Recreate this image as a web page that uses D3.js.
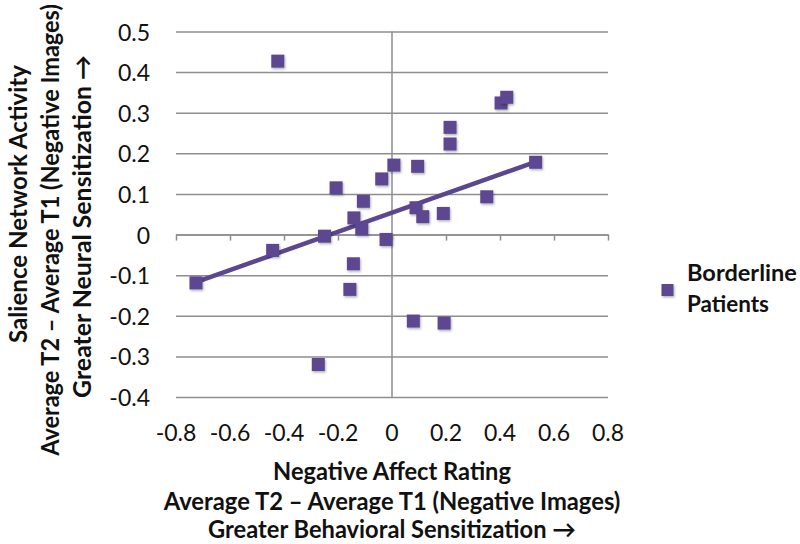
<!DOCTYPE html>
<html><head><meta charset="utf-8">
<script src="https://cdn.jsdelivr.net/npm/d3@7"></script>
<style>
html,body{margin:0;padding:0;background:#fff;}
svg{display:block;}
text{font-family:Lato,"Open Sans",sans-serif;fill:#111;}
</style></head>
<body>
<svg id="chart" width="800" height="544"></svg>
<script>
// ---- data ----
const affectRating = [-0.423,-0.207,-0.106,-0.038,0.007,-0.141,0.095,0.215,0.215,0.404,0.425,0.532,0.351,0.089,0.114,0.190,-0.726,-0.442,-0.250,-0.112,-0.022,-0.143,-0.156,-0.273,0.079,0.193];
const salience     = [0.427,0.115,0.082,0.137,0.171,0.041,0.168,0.264,0.223,0.324,0.338,0.178,0.093,0.066,0.044,0.052,-0.119,-0.039,-0.004,0.014,-0.012,-0.072,-0.135,-0.320,-0.213,-0.218];
const trendX = [-0.726, 0.532];
const trendY = [-0.117, 0.179];
const xTicks = [-0.8,-0.6,-0.4,-0.2,0,0.2,0.4,0.6,0.8];
const yTicks = [-0.4,-0.3,-0.2,-0.1,0,0.1,0.2,0.3,0.4,0.5];
const seriesName = ["Borderline","Patients"];
const xTitle = ["Negative Affect Rating","Average T2 \u2013 Average T1 (Negative Images)","Greater Behavioral Sensitization \u2192"];
const yTitle = ["Salience Network Activity","Average T2 \u2013 Average T1 (Negative Images)","Greater Neural Sensitization \u2192"];

// ---- drawing ----
const svg = d3.select("#chart");
const purple = "#5b4690";
const grid = "#8e8e8e";
const x = d3.scaleLinear().domain([-0.8,0.8]).range([176,608]);
const y = d3.scaleLinear().domain([-0.4,0.5]).range([397,31.5]);

const defs = svg.append("defs");
const f = defs.append("filter").attr("id","sh").attr("x","-50%").attr("y","-50%").attr("width","200%").attr("height","200%");
f.append("feDropShadow").attr("dx",1).attr("dy",1.5).attr("stdDeviation",1.2).attr("flood-color","#000").attr("flood-opacity",0.3);

// horizontal gridlines
const gy = svg.append("g").attr("transform",`translate(${x(-0.8)},0)`)
  .call(d3.axisLeft(y).tickValues(yTicks).tickSize(-(x(0.8)-x(-0.8))).tickFormat(""));
gy.select(".domain").remove();
gy.selectAll(".tick line").attr("stroke",grid).attr("stroke-width",1.5);

// vertical axis at x=0
svg.append("line").attr("x1",x(0)).attr("x2",x(0)).attr("y1",y(0.5)).attr("y2",y(-0.4))
  .attr("stroke",grid).attr("stroke-width",1.5);

// horizontal axis at y=0 with ticks
const gx = svg.append("g").attr("transform",`translate(0,${y(0)})`)
  .call(d3.axisBottom(x).tickValues(xTicks).tickSize(6).tickSizeOuter(0).tickFormat(""));
gx.select(".domain").attr("stroke",grid).attr("stroke-width",1.5);
gx.selectAll(".tick line").attr("stroke",grid).attr("stroke-width",1.5);

// tick labels
const fmt = v => v===0 ? "0" : d3.format(".1f")(v).replace("\u2212","-");
svg.append("g").selectAll("text").data(yTicks).join("text")
  .attr("x",150).attr("y",d=>y(d)+1).attr("dy","0.35em").attr("text-anchor","end")
  .attr("font-size",23).text(fmt);
svg.append("g").selectAll("text").data(xTicks).join("text")
  .attr("x",d=>x(d)).attr("y",441).attr("text-anchor","middle")
  .attr("font-size",23).text(fmt);

// trend line
svg.append("line").attr("x1",x(trendX[0])).attr("y1",y(trendY[0]))
  .attr("x2",x(trendX[1])).attr("y2",y(trendY[1]))
  .attr("stroke",purple).attr("stroke-width",4.5).attr("stroke-linecap","round");

// points
const S = 13;
svg.append("g").selectAll("rect").data(affectRating.map((v,i)=>[v,salience[i]])).join("rect")
  .attr("x",d=>x(d[0])-S/2).attr("y",d=>y(d[1])-S/2).attr("width",S).attr("height",S)
  .attr("fill",purple).attr("filter","url(#sh)");

// helper: fit a bold text to a target width while keeping a fixed glyph height
function fitText(g, px, py, rot, str, target, base, anchor){
  const t = g.append("text").attr("font-weight","bold").attr("font-size",base)
    .attr("text-anchor",anchor).text(str);
  const nat = t.node().getComputedTextLength();
  const fs = base*target/nat;
  t.attr("font-size",fs)
   .attr("transform",`translate(${px},${py}) rotate(${rot}) scale(1,${base/fs})`);
  return t;
}

// legend
svg.append("rect").attr("x",661.5).attr("y",284).attr("width",12).attr("height",12)
  .attr("fill",purple).attr("filter","url(#sh)");
const legW = [110,82];
const gl = svg.append("g");
seriesName.forEach((s,i)=>fitText(gl,687,280.5+i*31,0,s,legW[i],22,"start"));

// x title
const xW = [238,457,368];
const xB = [480,510,538];
const gxt = svg.append("g");
xTitle.forEach((s,i)=>fitText(gxt,392,xB[i],0,s,xW[i],24,"middle"));

// y title
const yW = [278,452,343];
const yC = [204,230,226.5];
const yB = [27,59,91];
const gyt = svg.append("g");
yTitle.forEach((s,i)=>fitText(gyt,yB[i],yC[i],-90,s,yW[i],24,"middle"));
</script>
</body></html>
